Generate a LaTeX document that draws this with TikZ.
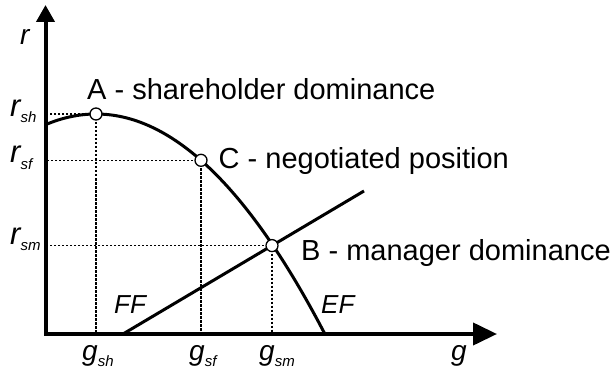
\documentclass[tikz,border=0pt]{standalone}
\usepackage{fontspec}
\setmainfont{Liberation Sans}
\usetikzlibrary{arrows.meta}
\newcommand{\axlbl}[3]{{\fontsize{#3}{#3}\selectfont\itshape #1}\raisebox{-6pt}{\fontsize{15}{15}\selectfont\itshape #2}}
\tikzset{
  axisline/.style={line width=4pt, line join=miter},
  curveline/.style={line width=3pt},
  guide/.style={line width=1.1pt, dash pattern=on 2.5pt off 1.5pt},
  pt/.style={circle, draw, fill=white, line width=1.3pt, minimum size=12pt, inner sep=0pt},
  bigtxt/.style={inner sep=0pt, anchor=base west, font=\fontsize{29}{29}\selectfont},
  lbl/.style={inner sep=0pt, anchor=base west},
}
\begin{document}
\begin{tikzpicture}[x=1pt, y=-1pt]
\useasboundingbox (0,0) rectangle (615,374);
\coordinate (O) at (45.5,334);
\coordinate (ytip) at (45.5,5);
\coordinate (xtip) at (497,334);
% axes
\draw[axisline, {Triangle[length=17pt,width=18pt]}-{Triangle[length=24pt,width=22pt]}] (ytip) -- (O) -- (xtip);
% point positions
\coordinate (Ap) at (96,114);
\coordinate (Cp) at (201,160.3);
\coordinate (Bp) at (272,245.6);
% guides
\draw[guide] (Ap) -- (Ap -| O);
\draw[guide] (Ap) -- (Ap |- O);
\draw[guide] (Cp) -- (Cp -| O);
\draw[guide] (Cp) -- (Cp |- O);
\draw[guide] (Bp) -- (Bp -| O);
\draw[guide] (Bp) -- (Bp |- O);
% EF curve
\draw[curveline] plot[domain=45:325, samples=80, smooth] (\x, {114+(0.0648*(\x-96))^2});
% FF line
\coordinate (ffs) at (123,334);
\coordinate (ffe) at (364,191);
\draw[curveline] (ffs) -- (ffe);
% points
\node[pt] (A) at (Ap) {};
\node[pt] (C) at (Cp) {};
\node[pt] (B) at (Bp) {};
% texts
\node[bigtxt] (tA) at (87,100) {A - shareholder dominance};
\node[bigtxt] (tC) at (218.5,168) {C - negotiated position};
\node[bigtxt] (tB) at (301,260) {B - manager dominance};
\node[lbl, font=\fontsize{28}{28}\selectfont\itshape] (rax) at (20,45) {r};
\node[lbl, font=\fontsize{28}{28}\selectfont\itshape] (gax) at (451,360) {g};
\node[lbl] (rsh) at (10,117) {\axlbl{r}{sh}{31}};
\node[lbl] (rsf) at (10,163) {\axlbl{r}{sf}{31}};
\node[lbl] (rsm) at (10,244) {\axlbl{r}{sm}{31}};
\node[lbl] (gsh) at (82,360) {\axlbl{g}{sh}{28}};
\node[lbl] (gsf) at (189,360) {\axlbl{g}{sf}{28}};
\node[lbl] (gsm) at (259,360) {\axlbl{g}{sm}{28}};
\node[lbl, font=\fontsize{26}{26}\selectfont\itshape] (FF) at (114,313) {FF};
\node[lbl, font=\fontsize{26}{26}\selectfont\itshape] (EF) at (321,313) {EF};
\end{tikzpicture}
\end{document}
